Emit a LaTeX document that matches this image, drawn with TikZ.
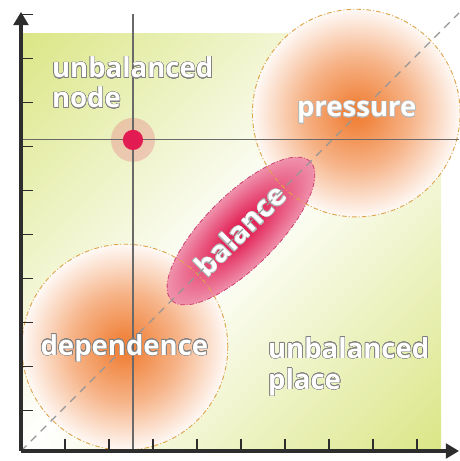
\documentclass[tikz,border=0pt]{standalone}
\usepackage{fontspec}
\setmainfont{Open Sans}
\usepackage[copies]{contour}
\usetikzlibrary{arrows.meta,positioning}

\definecolor{axisgray}{RGB}{45,45,45}
\definecolor{linegray}{RGB}{105,105,105}
\definecolor{diaggray}{RGB}{150,150,150}
\definecolor{bggreen}{RGB}{210,224,105}
\definecolor{glow}{RGB}{240,128,55}
\definecolor{rimorange}{RGB}{222,165,75}
\definecolor{crimson}{RGB}{226,28,82}
\definecolor{blush}{RGB}{240,160,182}
\definecolor{rimpink}{RGB}{205,60,110}

\pgfdeclarehorizontalshading{greenband}{100bp}{color(0bp)=(bggreen); color(15bp)=(bggreen!80); color(50bp)=(white); color(85bp)=(bggreen!80); color(100bp)=(bggreen)}
\pgfdeclareradialshading{orangeglow}{\pgfpoint{0bp}{0bp}}{color(0bp)=(glow); color(3bp)=(glow!95); color(13bp)=(glow!60); color(26bp)=(white); color(50bp)=(white)}
\pgfdeclareradialshading{pinkglow}{\pgfpoint{0bp}{0bp}}{color(0bp)=(crimson); color(7bp)=(crimson!88!blush); color(30bp)=(blush!85); color(50bp)=(blush!85)}

\contourlength{0.35pt}
\contournumber{20}
\newcommand{\outl}[2][black!50]{\contour{#1}{#2}}

\tikzset{
  axisline/.style={line width=2pt, axisgray, -{Triangle[length=8.5pt,width=9.5pt]}},
  tickmark/.style={line width=0.8pt, axisgray},
  crossline/.style={line width=0.7pt, linegray},
  rimcircle/.style={rimorange, line width=0.6pt, dash pattern=on 3pt off 1.4pt on 0.6pt off 1.4pt},
  zonelabel/.style={text=white, inner sep=0pt, font=\fontsize{17.8}{21}\selectfont\bfseries},
}

\begin{document}
\begin{tikzpicture}
    \useasboundingbox (-0.477,-0.227) rectangle (9.955,10.25);

    \coordinate (O) at (0,0);
    \coordinate (Xend) at (9.955,0);
    \coordinate (Yend) at (0,9.98);
    \coordinate (hub) at (2.545,7.07);
    \coordinate (P) at (7.62,7.68);
    \coordinate (D) at (2.36,2.36);
    \coordinate (B) at (5.0,5.0);

    % background
    \shade[shading=greenband, shading angle=-45] (O) rectangle (9.55,9.5);

    % the two zones
    \shade[shading=orangeglow] (P) circle (2.36);
    \shade[shading=orangeglow] (D) circle (2.34);

    % balance band
    \begin{scope}[transform canvas={shift={(B)}, rotate=45}]
        \shade[shading=pinkglow] (0,0) ellipse (2.23 and 0.82);
        \draw[rimpink, line width=0.5pt, dash pattern=on 3pt off 1.2pt on 0.6pt off 1.2pt] (0,0) ellipse (2.23 and 0.82);
        \node[zonelabel, font=\fontsize{19}{23}\selectfont\bfseries] (balance) at (0,0.02) {\outl[black!30]{balance}};
    \end{scope}

    \draw[rimcircle] (P) circle (2.36);
    \draw[rimcircle] (D) circle (2.34);

    \draw[diaggray, line width=0.9pt, dash pattern=on 5pt off 4pt] (O) -- (9.955,9.955);

    % cross through the node
    \fill[crimson, opacity=0.2] (hub) circle (0.5);
    \draw[crossline] (2.545,9.93) -- (2.545,0);
    \draw[crossline] (0,7.07) -- (9.955,7.07);
    \fill[crimson] (hub) circle (0.23);

    % axes
    \foreach \k in {1,...,9}
        \draw[tickmark] (\k,0) -- (\k,0.27);
    \foreach \k in {1,...,10}
        \draw[tickmark] (0,\k-0.075) -- (0.27,\k-0.075);
    \draw[axisline] (O) -- (Xend);
    \draw[axisline] (O) -- (Yend);

    % labels
    \node[zonelabel, anchor=base west] (unbalA) at (0.7,8.48) {\outl{unbalanced}};
    \node[zonelabel, anchor=base west] (nodeword) at (0.7,7.8) {\outl{node}};
    \node[zonelabel, anchor=base] (pressure) at (7.63,7.6) {\outl[black!28]{pressure}};
    \node[zonelabel, anchor=base] (dependence) at (2.35,2.18) {\outl{dependence}};
    \node[zonelabel, anchor=base west] (unbalB) at (5.61,2.11) {\outl{unbalanced}};
    \node[zonelabel, anchor=base west] (place) at (5.61,1.4) {\outl{place}};
\end{tikzpicture}
\end{document}
